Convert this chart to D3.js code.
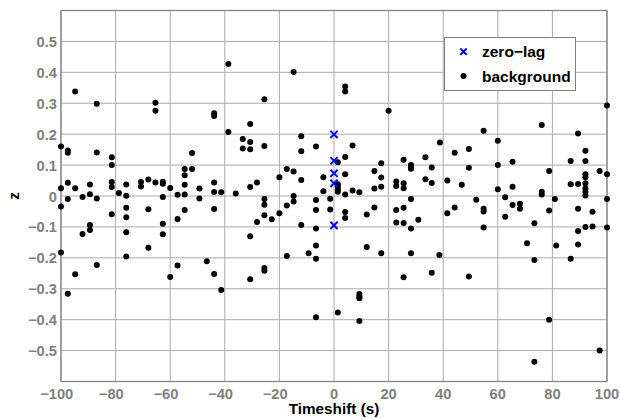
<!DOCTYPE html>
<html><head><meta charset="utf-8">
<script src="https://cdn.jsdelivr.net/npm/d3@7"></script>
<style>body{margin:0;background:#fff}</style>
</head><body>
<svg id="c" width="620" height="419"></svg>
<script>
// ---- data ----
const bgX = [
-100,-97.5,-97.5,-94.8,-86.9,-86.9,-81.4,-81.4,-65.4,-65.4,-52,-54.7,-52,-54.7,-43.9,-43.9,-38.7,-38.7,-33.4,-33.4,
-100,-97.5,-94.8,-97.5,-92.1,-89.4,-89.4,-86.9,-81.4,-81.4,-78.8,-76.1,-76.1,-70.7,-70.7,-68,-65.4,-62.7,-62.7,-62.7,
-60,-57.3,-54.7,-54.7,-49.3,-49.3,-43.9,-43.9,-41.3,-36,
-100,-76.1,-68,-54.7,-43.9,-81.4,-76.1,-57.3,-62.7,-89.4,-89.4,-92.1,-76.1,-62.7,-68,-100,-76.1,-86.9,-57.3,-46.6,
-94.8,-60,-43.9,-97.5,-41.3,
-14.8,4.1,4.1,-25.5,20,-30.7,-30.7,-30.7,-25.5,-12,-12,-6.6,6.8,1.4,4.1,4.1,-17.3,-14.8,-20,-12,
-3.9,-28.2,-30.7,1.4,1.4,1.4,1.4,-3.9,6.8,9.3,4.1,-14.8,-25.5,-6.6,-1.4,14.8,17.3,17.3,14.8,17.3,
22.8,22.8,25.5,25.5,25.5,28.2,28.2,28.2,33.5,33.5,28.2,35.8,35.8,
-25.5,-14.8,-17.3,-20,-25.5,-22.8,-28.2,-6.6,-1.4,4.1,4.1,12,14.8,22.8,25.5,22.8,25.5,30.9,28.2,-12,
-6.6,-30.7,-6.6,12,-9.3,-17.3,-6.6,17.3,28.2,-25.5,-25.5,-30.7,25.5,35.8,9.3,9.3,9.3,1.4,-6.6,9.3,
100,76.1,54.8,89.4,38.8,60,49.4,44.2,92.1,65.4,86.7,92.1,60,49.4,78.8,97.3,100,92.1,92.1,41.5,
46.8,60,65.4,86.7,89.4,92.1,92.1,92.1,76.1,76.1,52.1,62.7,80.9,100,
92.1,41.5,44.2,54.8,54.8,62.7,65.4,68.1,68.1,78.8,89.4,94.7,54.8,73.4,89.4,92.1,94.7,100,70.7,81.4,
89.4,38.6,73.4,86.7,49.4,78.8,97.3,73.4
];
const bgY = [
0.16,0.147,0.14,0.338,0.298,0.141,0.125,0.10,0.302,0.276,0.139,0.087,0.087,0.067,0.268,0.259,0.427,0.207,0.184,0.154,
0.025,0.043,0.025,-0.01,-0.003,0.037,0.006,-0.008,0.045,0.029,0.01,0.037,0.001,0.045,0.031,0.053,0.044,0.046,0.04,-0.003,
0.026,0.004,0.036,0.005,0.024,-0.008,0.044,0.013,0.012,0.008,
-0.034,-0.038,-0.043,-0.045,-0.042,-0.059,-0.069,-0.074,-0.09,-0.094,-0.11,-0.123,-0.117,-0.124,-0.167,-0.183,-0.196,-0.223,-0.225,-0.211,
-0.253,-0.262,-0.252,-0.316,-0.304,
0.401,0.354,0.338,0.313,0.276,0.233,0.175,0.151,0.162,0.193,0.145,0.16,0.163,0.109,0.126,0.07,0.087,0.079,0.061,0.052,
0.061,0.044,0.029,0.038,0.03,0.022,0.014,0.015,0.018,0.012,0.005,0.0,-0.01,-0.013,-0.009,0.081,0.106,0.06,0.024,0.03,
0.047,0.032,0.117,0.041,0.025,0.1,0.093,0.088,0.125,0.054,-0.01,0.092,0.042,
-0.028,-0.018,-0.031,-0.056,-0.062,-0.075,-0.084,-0.045,-0.044,-0.052,-0.071,-0.06,-0.037,-0.045,-0.038,-0.086,-0.087,-0.077,-0.105,-0.094,
-0.105,-0.13,-0.16,-0.165,-0.185,-0.194,-0.203,-0.185,-0.185,-0.233,-0.242,-0.269,-0.263,-0.248,-0.317,-0.325,-0.331,-0.377,-0.392,-0.404,
0.293,0.23,0.211,0.202,0.173,0.179,0.152,0.14,0.146,0.111,0.113,0.113,0.1,0.091,0.081,0.081,0.07,0.07,0.061,0.05,
0.036,0.022,0.03,0.038,0.039,0.041,0.025,0.014,0.014,0.005,-0.012,-0.004,-0.01,-0.01,
0.002,-0.056,-0.037,-0.041,-0.05,-0.067,-0.029,-0.025,-0.041,-0.047,-0.041,-0.051,-0.102,-0.088,-0.113,-0.1,-0.099,-0.102,-0.153,-0.16,
-0.157,-0.191,-0.207,-0.203,-0.26,-0.4,-0.5,-0.536
];
const zlX = [0, 0, 0, 0, 0];
const zlY = [0.199, 0.114, 0.0735, 0.041, -0.095];
const xTicks = [-100, -80, -60, -40, -20, 0, 20, 40, 60, 80, 100];
const yTicks = [-0.5, -0.4, -0.3, -0.2, -0.1, 0, 0.1, 0.2, 0.3, 0.4, 0.5];
const xTitle = "Timeshift (s)";
const yTitle = "z";
const legendLabels = ["zero\u2212lag", "background"];

// ---- layout ----
const L = 61, R = 607, T = 10.5, B = 381.5;
const FONT = "'Liberation Sans', Arial, Helvetica, sans-serif";
const svg = d3.select("#c");
const x = d3.scaleLinear().domain([-100, 100]).range([L, R]);
const y = d3.scaleLinear().domain([-0.6, 0.6]).range([B, T]);

function txt(g, s, tx, ty, opts) {
  const o = Object.assign({size: 14, sx: 1, anchor: "middle", color: "#000", rot: 0}, opts || {});
  return g.append("text")
    .attr("transform", `translate(${tx},${ty}) rotate(${o.rot}) scale(${o.sx},1)`)
    .attr("text-anchor", o.anchor)
    .attr("font-family", FONT).attr("font-weight", "bold")
    .attr("font-size", o.size).attr("fill", o.color)
    .text(s);
}

// grid
const grid = svg.append("g").attr("stroke", "#ababab").attr("stroke-width", 1);
xTicks.forEach(v => grid.append("line").attr("x1", x(v)).attr("x2", x(v)).attr("y1", T).attr("y2", B));
yTicks.forEach(v => grid.append("line").attr("x1", L).attr("x2", R).attr("y1", y(v)).attr("y2", y(v)));

// axes box
svg.append("rect").attr("x", L).attr("y", T).attr("width", R - L).attr("height", B - T)
  .attr("fill", "none").attr("stroke", "#7f7f7f").attr("stroke-width", 1.2);

// tick labels
const tg = svg.append("g");
const fx = d3.format("d");
const fy = v => v === 0 ? "0" : d3.format(".1f")(v);
xTicks.forEach(v => {
  const s = fx(v);
  const t = txt(tg, s, x(v), 399, {anchor: "start", color: "#808080", sx: 1.05});
  const node = t.node();
  const full = node.getComputedTextLength();
  const neg = v < 0;
  const digits = neg ? node.getSubStringLength(1, s.length - 1) : full;
  // center the digits on the tick; a minus sign hangs to the left
  t.attr("x", -(full - digits / 2));
});
yTicks.forEach(v => txt(tg, fy(v), 57, y(v) + 5.5, {anchor: "end", color: "#808080", sx: 1.05}));

// titles
txt(svg, xTitle, (L + R) / 2, 414, {size: 15.3});
txt(svg, yTitle, 18.5, (T + B) / 2, {size: 15.3, rot: -90});

// background points
const pts = bgX.map((v, i) => [v, bgY[i]]);
svg.append("g").selectAll("circle").data(pts).join("circle")
  .attr("cx", d => x(d[0])).attr("cy", d => y(d[1])).attr("r", 3).attr("fill", "#000");

// zero-lag crosses
const cs = 3.6;
const zl = svg.append("g").attr("stroke", "#0000ff").attr("stroke-width", 2);
zlX.forEach((v, i) => {
  const cx = x(v), cy = y(zlY[i]);
  zl.append("line").attr("x1", cx - cs).attr("x2", cx + cs).attr("y1", cy - cs).attr("y2", cy + cs);
  zl.append("line").attr("x1", cx - cs).attr("x2", cx + cs).attr("y1", cy + cs).attr("y2", cy - cs);
});

// legend
const lg = svg.append("g");
lg.append("rect").attr("x", 444.5).attr("y", 37.5).attr("width", 131).attr("height", 53)
  .attr("fill", "#fff").attr("stroke", "#7f7f7f").attr("stroke-width", 1);
const r1 = 51.7, r2 = 76, mx = 463.5;
lg.append("line").attr("x1", mx - 3.2).attr("x2", mx + 3.2).attr("y1", r1 - 3.2).attr("y2", r1 + 3.2).attr("stroke", "#0000ff").attr("stroke-width", 2);
lg.append("line").attr("x1", mx - 3.2).attr("x2", mx + 3.2).attr("y1", r1 + 3.2).attr("y2", r1 - 3.2).attr("stroke", "#0000ff").attr("stroke-width", 2);
lg.append("circle").attr("cx", mx).attr("cy", r2).attr("r", 3).attr("fill", "#000");
txt(lg, legendLabels[0], 482, 56.7, {anchor: "start", size: 15.5});
txt(lg, legendLabels[1], 482, 81.5, {anchor: "start", size: 15.5});
</script>
</body></html>
